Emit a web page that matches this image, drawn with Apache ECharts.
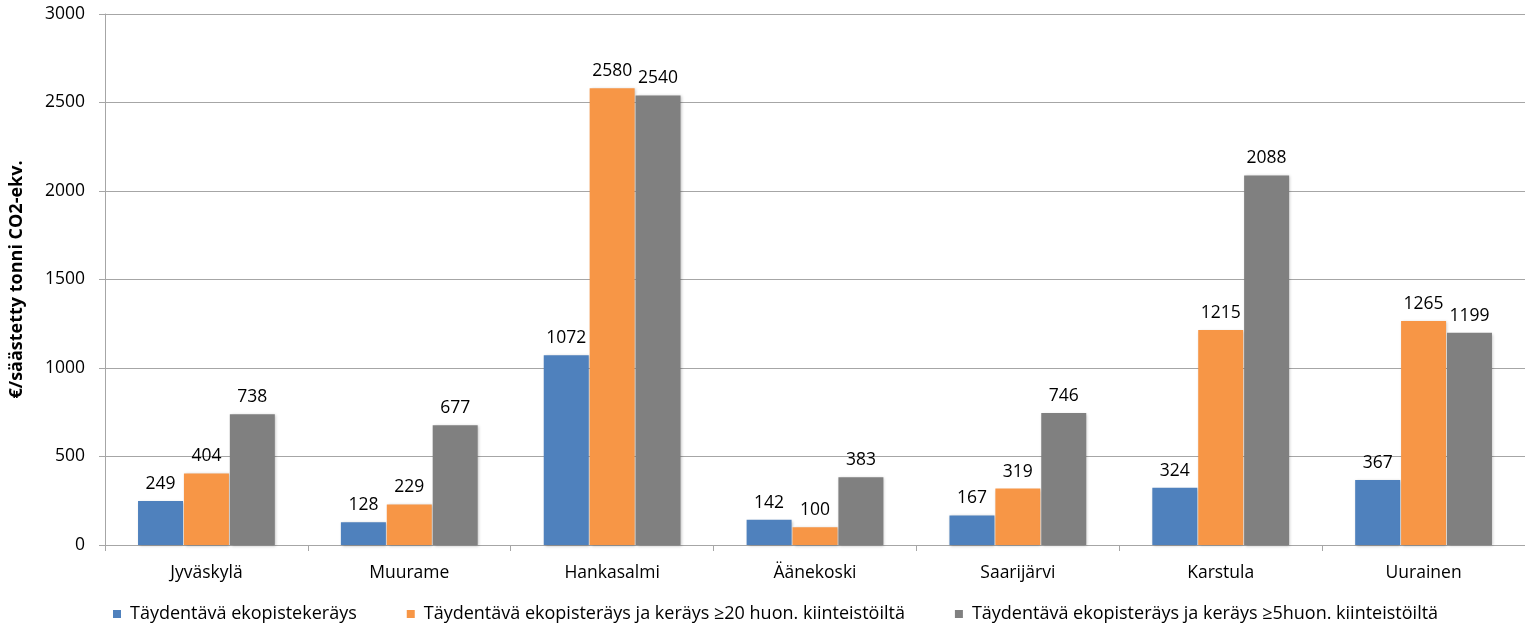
<!DOCTYPE html>
<html>
<head>
<meta charset="utf-8">
<script src="https://cdn.jsdelivr.net/npm/echarts@6/dist/echarts.min.js"></script>
<style>
  html, body { margin: 0; padding: 0; background: #fff; }
  #chart { width: 1525px; height: 625px; }
</style>
</head>
<body>
<div id="chart"></div>
<script>
// Municipalities on the category axis
const categories = ['Jyväskylä', 'Muurame', 'Hankasalmi', 'Äänekoski', 'Saarijärvi', 'Karstula', 'Uurainen'];

// Cost per saved tonne of CO2-eq for each collection scenario
const seriesNames = [
  'Täydentävä ekopistekeräys',
  'Täydentävä ekopisteräys ja keräys ≥20 huon. kiinteistöiltä',
  'Täydentävä ekopisteräys ja keräys ≥5huon. kiinteistöiltä'
];
const ekopiste = [249, 128, 1072, 142, 167, 324, 367];
const kerays20 = [404, 229, 2580, 100, 319, 1215, 1265];
const kerays5 = [738, 677, 2540, 383, 746, 2088, 1199];

const colors = ['#4f81bd', '#f79646', '#808080'];
const fontFamily = '"Open Sans", "Noto Sans", sans-serif';

const chart = echarts.init(document.getElementById('chart'));

function barSeries(name, data, color) {
  return {
    name: name,
    type: 'bar',
    data: data,
    barWidth: 45,
    barGap: '2%',
    itemStyle: {
      color: color,
      shadowColor: 'rgba(0,0,0,0.25)',
      shadowBlur: 3,
      shadowOffsetX: 1,
      shadowOffsetY: 1
    },
    label: {
      show: true,
      position: 'top',
      distance: 8,
      color: '#000',
      fontSize: 17.5,
      fontFamily: fontFamily
    }
  };
}

chart.setOption({
  animation: false,
  color: colors,
  grid: { left: 101, right: -12, top: 14, bottom: 80, containLabel: false },
  legend: {
    top: 600,
    left: 108,
    itemWidth: 8,
    itemHeight: 8,
    itemGap: 50,
    icon: 'rect',
    textStyle: { fontSize: 18, color: '#000', fontFamily: fontFamily, padding: [0, 0, 0, 4] },
    data: seriesNames
  },
  xAxis: {
    type: 'category',
    data: categories,
    axisLine: { lineStyle: { color: '#a6a6a6' } },
    axisTick: { show: true, length: 6, lineStyle: { color: '#a6a6a6' } },
    axisLabel: { fontSize: 17.5, color: '#000', fontFamily: fontFamily, margin: 19 }
  },
  yAxis: {
    type: 'value',
    min: 0,
    max: 3000,
    interval: 500,
    name: '€/säästetty tonni CO2-ekv.',
    nameLocation: 'middle',
    nameGap: 79,
    nameTextStyle: { fontSize: 18, fontWeight: 'bold', color: '#000', fontFamily: fontFamily },
    axisLine: { show: true, lineStyle: { color: '#a6a6a6' } },
    axisTick: { show: true, length: 6, lineStyle: { color: '#a6a6a6' } },
    axisLabel: {
      fontSize: 17.5,
      color: '#000',
      fontFamily: fontFamily,
      margin: 20,
      formatter: function (v) { return String(v); }
    },
    splitLine: { lineStyle: { color: '#a6a6a6' } }
  },
  series: [
    barSeries(seriesNames[0], ekopiste, colors[0]),
    barSeries(seriesNames[1], kerays20, colors[1]),
    barSeries(seriesNames[2], kerays5, colors[2])
  ]
});
</script>
</body>
</html>
